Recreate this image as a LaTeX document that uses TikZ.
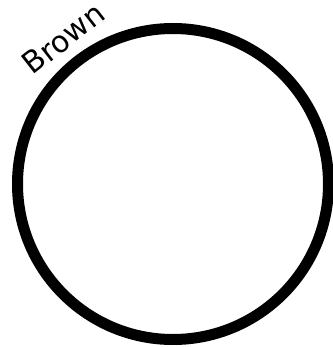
\documentclass[tikz,border=0pt]{standalone}
\usepackage{fontspec}
\setmainfont{DejaVu Sans}
\begin{document}
\begin{tikzpicture}[x=1pt,y=-1pt,
  ring/.style={draw=black,line width=11pt},
  lbl/.style={font=\fontsize{30}{34}\selectfont,inner sep=0pt,anchor=base}]
\useasboundingbox (0,0) rectangle (332,347);
\coordinate (c) at (173,184);
\draw[ring] (c) circle[radius=155.5];
\node[lbl,rotate=38] (brown) at (70,47) {Brown};
\end{tikzpicture}
\end{document}
